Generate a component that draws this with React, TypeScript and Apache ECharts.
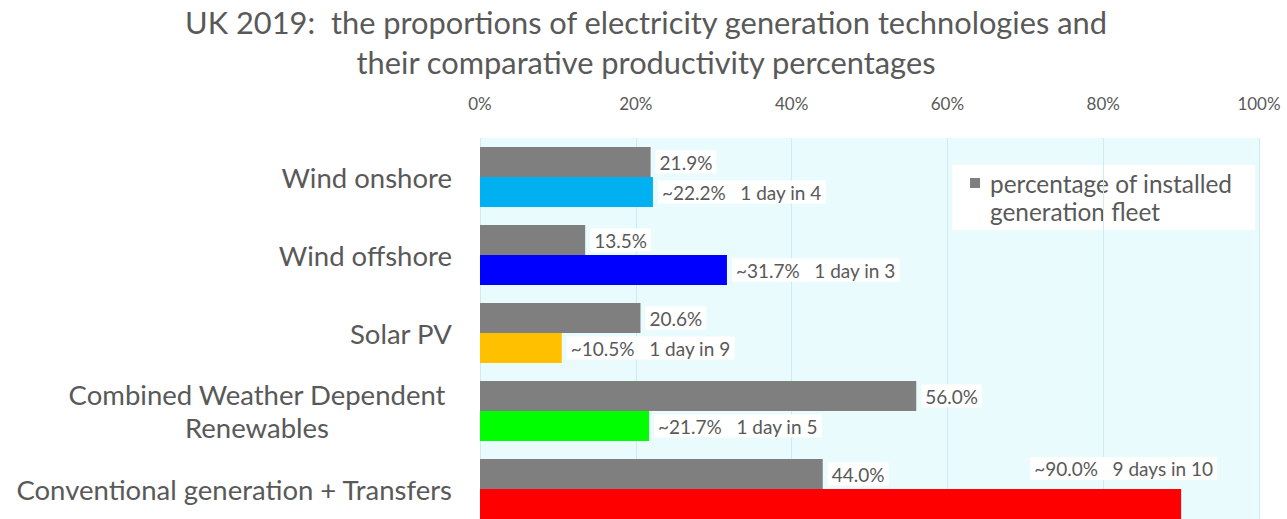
import React, { useEffect, useRef } from "react";
import * as echarts from "echarts";

const categories = [
  "Wind onshore",
  "Wind offshore",
  "Solar PV",
  "Combined Weather Dependent\nRenewables",
  "Conventional generation + Transfers",
];
const fleetShare = [21.9, 13.5, 20.6, 56.0, 44.0];
const productivity = [22.2, 31.7, 10.5, 21.7, 90.0];
const dayTexts = ["1 day in 4", "1 day in 3", "1 day in 9", "1 day in 5", "9 days in 10"];
const barColors = ["#00b0f0", "#0000ff", "#ffc000", "#00ff00", "#ff0000"];
const xTicks = [0, 20, 40, 60, 80, 100];
const fleetName = "percentage of installed generation fleet";
const titleText =
  "UK 2019:  the proportions of electricity generation technologies and\ntheir comparative productivity percentages";

const FONT = "Lato, 'Open Sans', sans-serif";
const TXT = "#595959";

export default function App() {
  const ref = useRef<HTMLDivElement>(null);
  useEffect(() => {
    document.body.style.margin = "0";
    document.body.style.overflow = "hidden";
    if (!ref.current) return;
    const chart = echarts.init(ref.current, null, { renderer: "svg" });
    const labelBase = {
      show: true,
      color: TXT,
      fontFamily: FONT,
      fontSize: 19,
      backgroundColor: "#ffffff",
      padding: [2, 4, 2, 4],
    };
    const option = {
      animation: false,
      backgroundColor: "#ffffff",
      textStyle: { fontFamily: FONT },
      title: {
        text: titleText,
        left: 646,
        textAlign: "center",
        top: 2,
        padding: 0,
        textStyle: {
          fontFamily: FONT,
          fontSize: 30.8,
          fontWeight: "normal",
          color: TXT,
          lineHeight: 40,
        },
      },
      grid: {
        left: 480,
        top: 138,
        width: 779,
        height: 390,
        outerBoundsMode: "none",
        containLabel: false,
        show: true,
        backgroundColor: "#eafbfd",
        borderWidth: 0,
      },
      xAxis: {
        type: "value",
        position: "top",
        min: xTicks[0],
        max: xTicks[xTicks.length - 1],
        interval: xTicks[1] - xTicks[0],
        axisLine: { show: false },
        axisTick: { show: false },
        axisLabel: {
          formatter: "{value}%",
          color: TXT,
          fontFamily: FONT,
          fontSize: 17,
          margin: 26,
        },
        splitLine: { show: true, lineStyle: { color: "#cdebf0", width: 1 } },
      },
      yAxis: {
        type: "category",
        inverse: true,
        data: categories,
        axisLine: { show: false },
        axisTick: { show: false },
        axisLabel: {
          color: TXT,
          fontFamily: FONT,
          fontSize: 27.5,
          margin: 28,
          lineHeight: 33,
          formatter: (v: string) =>
            v.includes("\n")
              ? v
                  .split("\n")
                  .map((l) => `{c|${l}}`)
                  .join("\n")
              : v,
          rich: {
            c: {
              width: 390,
              align: "center",
              color: TXT,
              fontFamily: FONT,
              fontSize: 27.5,
              lineHeight: 33,
            },
          },
        },
      },
      series: [
        {
          name: fleetName,
          type: "bar",
          data: fleetShare,
          barWidth: 30,
          barGap: "0%",
          itemStyle: { color: "#7f7f7f" },
          label: {
            ...labelBase,
            position: "right",
            distance: 5,
            formatter: (p: any) => `${Number(p.value).toFixed(1)}%`,
          },
        },
        {
          name: "productivity",
          type: "bar",
          barWidth: 30,
          barGap: "0%",
          data: productivity.map((v, i) => ({
            value: v,
            itemStyle: { color: barColors[i] },
            label:
              i === productivity.length - 1
                ? {
                    position: ["100%", 0],
                    align: "right",
                    verticalAlign: "bottom",
                    offset: [36, -9],
                  }
                : undefined,
          })),
          label: {
            ...labelBase,
            position: "right",
            distance: 5,
            formatter: (p: any) =>
              `~${Number(p.value).toFixed(1)}%   ${dayTexts[p.dataIndex]}`,
          },
        },
      ],
      graphic: [
        {
          type: "group",
          left: 952,
          top: 165,
          children: [
            {
              type: "rect",
              shape: { x: 0, y: 0, width: 303, height: 65 },
              style: { fill: "#ffffff" },
            },
            {
              type: "rect",
              shape: { x: 18, y: 13, width: 10, height: 10 },
              style: { fill: "#7f7f7f" },
            },
            {
              type: "text",
              x: 38,
              y: 4,
              style: {
                text: "percentage of installed\ngeneration fleet",
                fill: TXT,
                font: `24.4px ${FONT}`,
                lineHeight: 28,
              },
            },
          ],
        },
      ],
    };
    chart.setOption(option as any);
    return () => chart.dispose();
  }, []);
  return <div ref={ref} style={{ width: 1287, height: 519 }} />;
}
